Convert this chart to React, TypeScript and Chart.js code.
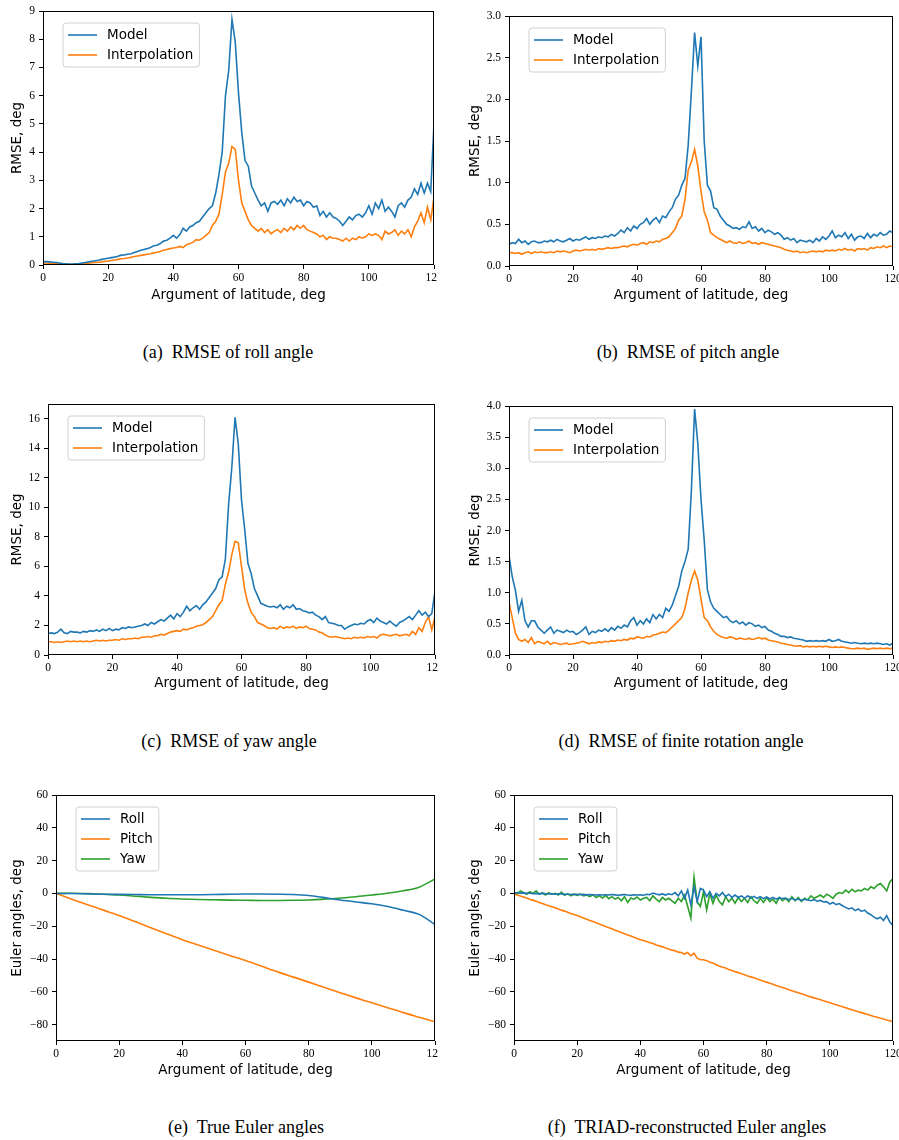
import React, { useEffect, useRef } from "react";
import { Chart, registerables } from "chart.js";
Chart.register(...registerables);

const BLUE = "#1f77b4";
const ORANGE = "#ff7f0e";
const GREEN = "#2ca02c";

// Argument of latitude, deg (shared x grid for the noisy panels)
const X = [
  0, 1, 2, 3, 4, 5, 6, 7, 8, 9, 10, 11, 12, 13, 14, 15, 16, 17, 18, 19,
  20, 21, 22, 23, 24, 25, 26, 27, 28, 29, 30, 31, 32, 33, 34, 35, 36, 37, 38, 39,
  40, 41, 42, 43, 44, 45, 46, 47, 48, 49, 50, 51, 52, 53, 54, 55, 56, 57, 58, 59,
  60, 61, 62, 63, 64, 65, 66, 67, 68, 69, 70, 71, 72, 73, 74, 75, 76, 77, 78, 79,
  80, 81, 82, 83, 84, 85, 86, 87, 88, 89, 90, 91, 92, 93, 94, 95, 96, 97, 98, 99,
  100, 101, 102, 103, 104, 105, 106, 107, 108, 109, 110, 111, 112, 113, 114, 115, 116, 117, 118, 119,
  120,
];
// x grid for the smooth "true Euler angles" panel
const X_E = [0, 5, 10, 15, 20, 25, 30, 35, 40, 45, 50, 55, 60, 65, 70, 75, 80, 85, 90, 95, 100, 105, 110, 115, 120];

// (a) RMSE of roll angle
const A_MODEL = [
  0.12, 0.12, 0.11, 0.10, 0.09, 0.07, 0.05, 0.04, 0.03, 0.03,
  0.04, 0.05, 0.07, 0.09, 0.11, 0.13, 0.15, 0.17, 0.20, 0.22,
  0.24, 0.26, 0.28, 0.31, 0.35, 0.36, 0.38, 0.40, 0.44, 0.48,
  0.52, 0.55, 0.58, 0.62, 0.68, 0.70, 0.76, 0.85, 0.88, 0.95,
  1.05, 0.95, 1.08, 1.30, 1.20, 1.35, 1.40, 1.50, 1.55, 1.70,
  1.85, 2.00, 2.10, 2.55, 3.20, 4.00, 6.00, 6.90, 8.70, 7.90,
  6.10, 4.70, 3.70, 3.50, 2.80, 2.55, 2.30, 2.10, 2.20, 1.90,
  2.20, 2.25, 2.15, 2.30, 2.10, 2.35, 2.20, 2.40, 2.25, 2.30,
  2.10, 2.25, 2.20, 2.05, 2.10, 1.75, 1.90, 1.70, 1.85, 1.70,
  1.65, 1.55, 1.40, 1.55, 1.70, 1.60, 1.75, 1.80, 1.70, 1.85,
  2.10, 1.80, 2.20, 2.00, 2.30, 1.90, 2.05, 1.90, 1.70, 2.10,
  2.20, 2.05, 2.30, 2.40, 2.70, 2.50, 2.90, 2.55, 2.90, 2.60,
  5.00,
];
const A_INTERP = [
  0.07, 0.07, 0.06, 0.05, 0.05, 0.04, 0.03, 0.02, 0.02, 0.02,
  0.03, 0.03, 0.04, 0.05, 0.06, 0.08, 0.09, 0.10, 0.11, 0.13,
  0.14, 0.16, 0.18, 0.20, 0.22, 0.23, 0.25, 0.27, 0.30, 0.32,
  0.34, 0.36, 0.38, 0.40, 0.43, 0.45, 0.48, 0.52, 0.55, 0.58,
  0.60, 0.62, 0.66, 0.62, 0.72, 0.75, 0.80, 0.90, 0.88, 0.95,
  1.05, 1.15, 1.40, 1.55, 1.80, 2.50, 3.30, 3.60, 4.20, 4.10,
  3.00, 2.20, 1.90, 1.60, 1.40, 1.30, 1.20, 1.30, 1.15, 1.25,
  1.10, 1.20, 1.25, 1.15, 1.30, 1.20, 1.35, 1.25, 1.40, 1.30,
  1.40, 1.25, 1.20, 1.15, 1.10, 1.00, 1.05, 0.90, 1.00, 0.95,
  0.95, 0.90, 0.85, 0.95, 0.85, 0.95, 0.90, 1.00, 0.95, 1.00,
  1.10, 1.05, 1.10, 1.05, 0.90, 1.20, 1.10, 1.15, 1.25, 1.05,
  1.20, 1.10, 1.25, 1.00, 1.35, 1.55, 1.85, 1.50, 2.05, 1.60,
  2.40,
];

// (b) RMSE of pitch angle
const B_MODEL = [
  0.26, 0.28, 0.27, 0.32, 0.28, 0.30, 0.26, 0.29, 0.30, 0.28,
  0.28, 0.30, 0.29, 0.31, 0.29, 0.32, 0.30, 0.29, 0.31, 0.33,
  0.30, 0.32, 0.31, 0.33, 0.35, 0.32, 0.34, 0.33, 0.35, 0.34,
  0.36, 0.35, 0.38, 0.36, 0.39, 0.43, 0.40, 0.46, 0.42, 0.48,
  0.45, 0.50, 0.52, 0.57, 0.50, 0.55, 0.58, 0.52, 0.60, 0.58,
  0.65, 0.70, 0.80, 0.85, 0.97, 1.05, 1.45, 2.10, 2.80, 2.40,
  2.75, 1.50, 0.97, 0.90, 0.70, 0.68, 0.60, 0.55, 0.50, 0.48,
  0.45, 0.46, 0.44, 0.47, 0.46, 0.53, 0.45, 0.47, 0.42, 0.45,
  0.40, 0.43, 0.41, 0.38, 0.40, 0.37, 0.32, 0.34, 0.31, 0.33,
  0.28, 0.31, 0.30, 0.29, 0.31, 0.28, 0.33, 0.30, 0.35, 0.32,
  0.36, 0.42, 0.34, 0.37, 0.35, 0.40, 0.33, 0.38, 0.31, 0.35,
  0.36, 0.33, 0.39, 0.34, 0.38, 0.36, 0.40, 0.37, 0.38, 0.42,
  0.40,
];
const B_INTERP = [
  0.16, 0.16, 0.15, 0.16, 0.14, 0.16, 0.17, 0.15, 0.17, 0.16,
  0.17, 0.16, 0.16, 0.17, 0.16, 0.18, 0.17, 0.18, 0.17, 0.16,
  0.18, 0.19, 0.18, 0.19, 0.20, 0.19, 0.20, 0.19, 0.21, 0.20,
  0.21, 0.22, 0.21, 0.22, 0.22, 0.23, 0.24, 0.23, 0.25, 0.26,
  0.25, 0.27, 0.28, 0.26, 0.29, 0.28, 0.30, 0.29, 0.32, 0.33,
  0.35, 0.40, 0.45, 0.55, 0.60, 0.80, 1.15, 1.25, 1.40, 1.20,
  0.90, 0.65, 0.55, 0.40, 0.37, 0.34, 0.32, 0.30, 0.28, 0.30,
  0.28, 0.27, 0.29, 0.27, 0.28, 0.30, 0.27, 0.28, 0.26, 0.28,
  0.27, 0.26, 0.25, 0.24, 0.23, 0.22, 0.20, 0.19, 0.18, 0.17,
  0.18, 0.16, 0.17, 0.16, 0.17, 0.18, 0.17, 0.18, 0.17, 0.19,
  0.18, 0.19, 0.18, 0.20, 0.19, 0.21, 0.19, 0.20, 0.18, 0.21,
  0.20, 0.21, 0.19, 0.22, 0.21, 0.23, 0.22, 0.24, 0.22, 0.24,
  0.23,
];

// (c) RMSE of yaw angle
const C_MODEL = [
  1.45, 1.50, 1.45, 1.55, 1.75, 1.50, 1.45, 1.60, 1.55, 1.55,
  1.50, 1.60, 1.55, 1.65, 1.60, 1.70, 1.60, 1.75, 1.65, 1.80,
  1.65, 1.75, 1.70, 1.85, 1.80, 1.90, 1.85, 1.90, 1.95, 2.00,
  2.10, 2.00, 2.20, 2.10, 2.25, 2.40, 2.30, 2.50, 2.70, 2.45,
  2.80, 2.60, 2.90, 3.30, 3.00, 3.20, 3.35, 3.10, 3.40, 3.60,
  3.90, 4.20, 4.50, 5.10, 5.30, 6.50, 10.20, 12.70, 16.10, 14.30,
  10.50, 8.50, 6.20, 5.50, 4.50, 4.00, 3.50, 3.40, 3.30, 3.25,
  3.30, 3.20, 3.40, 3.10, 3.30, 3.20, 3.40, 3.10, 3.15, 3.00,
  2.95, 2.85, 2.90, 2.70, 2.60, 2.40, 2.60, 2.20, 2.15, 2.10,
  2.00, 2.00, 1.75, 1.90, 2.00, 2.10, 2.05, 2.15, 2.10, 2.30,
  2.40, 2.20, 2.50, 2.30, 2.20, 2.10, 2.30, 2.10, 1.95, 2.20,
  2.30, 2.45, 2.60, 2.40, 2.70, 3.00, 2.70, 2.90, 2.60, 2.80,
  4.30,
];
const C_INTERP = [
  0.90, 0.90, 0.85, 0.90, 0.85, 0.90, 0.95, 0.90, 0.95, 0.90,
  0.95, 0.90, 0.95, 0.90, 0.95, 1.00, 0.95, 1.00, 0.95, 1.00,
  1.00, 1.05, 1.00, 1.10, 1.05, 1.10, 1.10, 1.15, 1.10, 1.20,
  1.20, 1.25, 1.20, 1.30, 1.30, 1.40, 1.35, 1.45, 1.55, 1.60,
  1.65, 1.60, 1.75, 1.70, 1.80, 1.85, 1.95, 2.00, 2.05, 2.20,
  2.40, 2.60, 3.00, 3.40, 3.70, 4.80, 5.60, 6.80, 7.70, 7.60,
  6.00, 4.40, 3.50, 2.90, 2.60, 2.20, 2.10, 2.00, 1.85, 1.80,
  1.85, 1.75, 1.95, 1.80, 1.90, 1.85, 1.95, 1.80, 1.90, 1.85,
  1.95, 1.80, 1.75, 1.70, 1.55, 1.50, 1.35, 1.25, 1.20, 1.25,
  1.20, 1.15, 1.10, 1.15, 1.10, 1.20, 1.15, 1.20, 1.15, 1.25,
  1.20, 1.25, 1.15, 1.35, 1.40, 1.35, 1.30, 1.35, 1.40, 1.30,
  1.35, 1.40, 1.30, 1.60, 1.40, 1.85, 1.60, 2.20, 2.60, 1.70,
  2.60,
];

// (d) RMSE of finite rotation angle
const D_MODEL = [
  1.60, 1.26, 1.04, 0.70, 0.88, 0.55, 0.45, 0.55, 0.55, 0.45,
  0.40, 0.35, 0.40, 0.45, 0.35, 0.40, 0.38, 0.36, 0.40, 0.37,
  0.38, 0.33, 0.36, 0.40, 0.45, 0.33, 0.38, 0.36, 0.40, 0.38,
  0.42, 0.38, 0.44, 0.40, 0.46, 0.43, 0.48, 0.45, 0.55, 0.60,
  0.48, 0.55, 0.50, 0.58, 0.52, 0.65, 0.58, 0.65, 0.60, 0.75,
  0.70, 0.80, 0.95, 1.10, 1.35, 1.50, 1.70, 2.65, 3.95, 3.40,
  2.50, 1.85, 1.05, 0.85, 0.75, 0.70, 0.65, 0.60, 0.62, 0.55,
  0.52, 0.55, 0.50, 0.53, 0.48, 0.52, 0.50, 0.46, 0.48, 0.44,
  0.46, 0.40, 0.38, 0.35, 0.33, 0.30, 0.30, 0.28, 0.29, 0.27,
  0.26, 0.25, 0.24, 0.22, 0.23, 0.22, 0.23, 0.22, 0.23, 0.22,
  0.25, 0.22, 0.23, 0.25, 0.22, 0.21, 0.20, 0.19, 0.20, 0.19,
  0.18, 0.19, 0.18, 0.19, 0.18, 0.19, 0.18, 0.17, 0.18, 0.16,
  0.19,
];
const D_INTERP = [
  0.85, 0.60, 0.35, 0.25, 0.22, 0.25, 0.20, 0.28, 0.18, 0.22,
  0.20, 0.18, 0.22, 0.17, 0.20, 0.19, 0.17, 0.18, 0.19, 0.17,
  0.18, 0.19, 0.20, 0.22, 0.20, 0.18, 0.20, 0.19, 0.21, 0.20,
  0.22, 0.21, 0.23, 0.22, 0.24, 0.23, 0.25, 0.24, 0.27, 0.26,
  0.29, 0.28, 0.27, 0.30, 0.29, 0.32, 0.33, 0.35, 0.37, 0.36,
  0.40, 0.45, 0.50, 0.55, 0.60, 0.75, 1.00, 1.20, 1.35, 1.20,
  0.90, 0.60, 0.55, 0.45, 0.38, 0.33, 0.30, 0.28, 0.27, 0.29,
  0.28, 0.25, 0.27, 0.26, 0.25, 0.27, 0.25, 0.26, 0.28, 0.26,
  0.27, 0.24, 0.23, 0.22, 0.21, 0.19, 0.18, 0.17, 0.16, 0.15,
  0.14, 0.15, 0.13, 0.14, 0.13, 0.14, 0.13, 0.14, 0.13, 0.14,
  0.13, 0.12, 0.13, 0.12, 0.13, 0.12, 0.11, 0.10, 0.10, 0.11,
  0.10, 0.11, 0.09, 0.10, 0.11, 0.10, 0.11, 0.10, 0.11, 0.10,
  0.11,
];

// (e) True Euler angles
const E_ROLL = [0, -0.1, -0.3, -0.5, -0.6, -0.7, -0.8, -0.8, -0.8, -0.8, -0.7, -0.5, -0.4, -0.4, -0.5, -0.7, -1.3, -2.6, -4.0, -5.2, -6.3, -8.0, -10.3, -12.8, -19.0];
const E_PITCH = [0, -3.5, -6.9, -10.2, -13.5, -17.2, -20.9, -24.6, -28.2, -31.4, -34.6, -37.8, -40.9, -44.3, -47.7, -50.9, -54.1, -57.4, -60.6, -63.7, -66.7, -69.7, -72.7, -75.5, -78.3];
const E_YAW = [0, 0.1, -0.1, -0.5, -1.0, -1.7, -2.4, -3.0, -3.4, -3.7, -3.9, -4.1, -4.2, -4.3, -4.3, -4.2, -4.0, -3.5, -2.8, -2.0, -1.0, 0.1, 1.6, 3.8, 8.8];

// (f) TRIAD-reconstructed Euler angles
const F_ROLL = [
  0, 0.5, 0.2, 0.3, 0, 0.2, -0.2, 0, -0.3, 0,
  -0.2, -0.4, -0.2, -0.5, -0.3, -0.4, -0.6, -0.4, -0.7, -0.5,
  -0.6, -0.8, -0.6, -0.9, -0.7, -0.8, -1.0, -0.8, -1.0, -0.8,
  -1.0, -0.7, -0.9, -1.1, -0.9, -0.7, -1.0, -1.2, -0.8, -1.0,
  -0.9, -1.1, -0.5, -0.8, 0.2, -0.4, -0.9, -0.3, -1.0, -0.2,
  -0.8, 0.5, -1.5, 1.5, -3, 2, -7, 4, -5, 3,
  2, -2, 1, -3, 0, -1.5, 0.5, -2, -0.5, -2.5,
  -1, -2.5, -1.5, -3, -1.5, -2.8, -1.8, -3, -2, -3.2,
  -2.2, -3.4, -2.4, -3.5, -2.6, -3.2, -2.8, -3.8, -3.0, -4.0,
  -3.4, -4.2, -3.6, -4.0, -4.5, -3.8, -4.8, -4.3, -5.2, -5.0,
  -6.5, -5.5, -6.8, -6.2, -7.5, -8.5, -9.5, -8.8, -10.5, -9.5,
  -11, -10.2, -12, -13, -14.5, -15.5, -14.5, -16.5, -13.5, -17.5,
  -19.5,
];
const F_PITCH = [
  -0.5, -1.0, -1.6, -2.2, -2.8, -3.5, -4.1, -4.8, -5.5, -6.2,
  -6.9, -7.5, -8.2, -8.8, -9.5, -10.2, -10.8, -11.5, -12.2, -12.8,
  -13.5, -14.2, -15.0, -15.7, -16.5, -17.2, -17.9, -18.7, -19.4, -20.2,
  -20.9, -21.6, -22.4, -23.1, -23.9, -24.6, -25.3, -26.0, -26.8, -27.5,
  -28.2, -28.7, -29.4, -30.1, -30.6, -31.4, -32.0, -32.6, -33.3, -33.9,
  -34.6, -35.0, -35.8, -36.0, -37.0, -36.0, -38.0, -36.5, -39.5, -40.5,
  -40.5, -41.0, -42.0, -42.5, -43.5, -44.3, -45.0, -45.5, -46.4, -47.0,
  -47.7, -48.3, -49.0, -49.6, -50.3, -50.9, -51.5, -52.2, -52.8, -53.5,
  -54.1, -54.8, -55.4, -56.1, -56.8, -57.4, -58.0, -58.7, -59.3, -60.0,
  -60.6, -61.2, -61.8, -62.5, -63.1, -63.7, -64.3, -64.9, -65.5, -66.1,
  -66.7, -67.3, -67.9, -68.5, -69.1, -69.7, -70.3, -70.9, -71.5, -72.1,
  -72.7, -73.3, -73.8, -74.4, -75.0, -75.5, -76.1, -76.6, -77.2, -77.7,
  -78.3,
];
const F_YAW = [
  1, -0.5, 1.5, 0.5, -0.5, 1, 0, 1.5, -0.5, 0.5,
  -1, 0.5, -0.5, 0, -1, 0.8, -1.2, -0.3, -1.5, -0.5,
  -1.2, -0.3, -1.5, -1, -2, -0.8, -2.5, -1.5, -2.8, -1.2,
  -3.2, -2, -3.5, -2.5, -4.5, -2, -5.5, -2.8, -3.5, -2.2,
  -4, -3, -2.5, -4.5, -1.5, -3.5, -5, -2.5, -4, -3,
  -4.5, -6, -3, -5, -1, -8, -15, 10, -5, -8,
  1, -10, 0, -6, -1, -5, -7, -2, -5, -3,
  -6, -2.5, -5, -3, -5.5, -2, -4.5, -6, -3, -5.5,
  -2.5, -5, -3.5, -6, -2.5, -4.5, -3, -5, -2, -4.5,
  -2.5, -5, -3, -4, -1.5, -3, -2, -1, -2.5, -0.5,
  -1.5, -3, -0.5, 0.5, 0, 2, 0.5, 2.5, 1, 2,
  1.5, 3, 2, 4, 3, 5, 6, 4, 1.5, 7,
  9,
];

const X_TICKS = [0, 20, 40, 60, 80, 100, 120];
const A_TICKS = [0, 1, 2, 3, 4, 5, 6, 7, 8, 9];
const B_TICKS = [0, 0.5, 1.0, 1.5, 2.0, 2.5, 3.0];
const C_TICKS = [0, 2, 4, 6, 8, 10, 12, 14, 16];
const D_TICKS = [0, 0.5, 1.0, 1.5, 2.0, 2.5, 3.0, 3.5, 4.0];
const E_TICKS = [-80, -60, -40, -20, 0, 20, 40, 60];

const RMSE_LABELS = ["Model", "Interpolation"];
const EULER_LABELS = ["Roll", "Pitch", "Yaw"];
const CAPTIONS = [
  "(a)  RMSE of roll angle",
  "(b)  RMSE of pitch angle",
  "(c)  RMSE of yaw angle",
  "(d)  RMSE of finite rotation angle",
  "(e)  True Euler angles",
  "(f)  TRIAD-reconstructed Euler angles",
];

type Series = { label: string; xs: number[]; ys: number[]; color: string; smooth?: boolean };
type Spec = {
  box: [number, number, number, number];
  plot: [number, number, number, number];
  yMin: number;
  yMax: number;
  yTicks: number[];
  yDec: number;
  yTitle: string;
  yTitleX: number;
  xTitleY: number;
  series: Series[];
};

const SANS = '"DejaVu Sans", sans-serif';
const SERIF = '"Liberation Serif", serif';

const fmt = (v: number, dec: number) => {
  const s = dec > 0 ? v.toFixed(dec) : String(Math.round(v));
  return s.replace("-", "\u2212");
};

function Panel({ spec }: { spec: Spec }) {
  const ref = useRef<HTMLCanvasElement | null>(null);
  const [cl, ct, cr, cb] = spec.box;
  const [pl, pt, pr, pb] = spec.plot;
  useEffect(() => {
    if (!ref.current) return;
    const half = 13.5 * 1.2 / 2;
    const overlay = {
      id: "frameLegend",
      afterDraw(chart: any) {
        const ctx = chart.ctx as CanvasRenderingContext2D;
        const a = chart.chartArea;
        ctx.save();
        ctx.strokeStyle = "#000";
        ctx.lineWidth = 1;
        ctx.strokeRect(Math.round(a.left) + 0.5, Math.round(a.top) + 0.5, Math.round(a.right - a.left) - 1, Math.round(a.bottom - a.top) - 1);
        ctx.font = "13.5px " + SANS;
        const tw = Math.max(...spec.series.map((s) => ctx.measureText(s.label).width));
        const bx = a.left + 20;
        const by = a.top + 12;
        const bw = 44 + tw + 6;
        const bh = spec.series.length * 20 + 4;
        ctx.beginPath();
        const r = 3;
        ctx.moveTo(bx + r, by);
        ctx.arcTo(bx + bw, by, bx + bw, by + bh, r);
        ctx.arcTo(bx + bw, by + bh, bx, by + bh, r);
        ctx.arcTo(bx, by + bh, bx, by, r);
        ctx.arcTo(bx, by, bx + bw, by, r);
        ctx.closePath();
        ctx.fillStyle = "rgba(255,255,255,0.85)";
        ctx.fill();
        ctx.strokeStyle = "#d0d0d0";
        ctx.stroke();
        ctx.textBaseline = "middle";
        ctx.fillStyle = "#000";
        spec.series.forEach((s, i) => {
          const yy = by + 12 + i * 20;
          ctx.beginPath();
          ctx.strokeStyle = s.color;
          ctx.lineWidth = 1.6;
          ctx.moveTo(bx + 5, yy);
          ctx.lineTo(bx + 34, yy);
          ctx.stroke();
          ctx.fillText(s.label, bx + 44, yy + 0.5);
        });
        ctx.restore();
      },
    };
    const tickFont = { family: SERIF, size: 11.5 };
    const grid = { display: true, drawOnChartArea: false, drawTicks: true, tickLength: 4, tickWidth: 1, tickColor: "#000", color: "#000" };
    const chart = new Chart(ref.current, {
      type: "line",
      data: {
        datasets: spec.series.map((s) => ({
          label: s.label,
          data: s.xs.map((x, i) => ({ x, y: s.ys[i] })),
          borderColor: s.color,
          backgroundColor: s.color,
          borderWidth: 1.6,
          pointRadius: 0,
          fill: false,
          tension: s.smooth ? 0.4 : 0,
          cubicInterpolationMode: s.smooth ? "monotone" : "default",
        })),
      },
      options: {
        animation: false,
        responsive: false,
        maintainAspectRatio: false,
        devicePixelRatio: 1,
        events: [],
        layout: { padding: { left: 0, top: pt - ct, right: cr - pr, bottom: 0 } },
        plugins: { legend: { display: false }, tooltip: { enabled: false } },
        scales: {
          x: {
            type: "linear",
            min: 0,
            max: 120,
            afterBuildTicks: (s: any) => {
              s.ticks = X_TICKS.map((v) => ({ value: v }));
            },
            afterFit: (s: any) => {
              s.height = cb - pb;
              s.paddingLeft = 0;
              s.paddingRight = 0;
            },
            ticks: { font: tickFont, color: "#000", padding: 2, maxRotation: 0, autoSkip: false, callback: (v: any) => fmt(Number(v), 0) },
            grid,
            border: { display: false },
            title: { display: true, text: "Argument of latitude, deg", font: { family: SANS, size: 13.5 }, color: "#000", padding: { top: 0, bottom: cb - spec.xTitleY - half } },
          },
          y: {
            type: "linear",
            min: spec.yMin,
            max: spec.yMax,
            afterBuildTicks: (s: any) => {
              s.ticks = spec.yTicks.map((v) => ({ value: v }));
            },
            afterFit: (s: any) => {
              s.width = pl - cl;
              s.paddingTop = 0;
              s.paddingBottom = 0;
            },
            ticks: { font: tickFont, color: "#000", padding: 4, autoSkip: false, callback: (v: any) => fmt(Number(v), spec.yDec) },
            grid,
            border: { display: false },
            title: { display: true, text: spec.yTitle, font: { family: SANS, size: 13.5 }, color: "#000", padding: { top: spec.yTitleX - cl - half, bottom: 0 } },
          },
        },
      } as any,
      plugins: [overlay],
    });
    return () => chart.destroy();
  }, []);
  return (
    <canvas
      ref={ref}
      width={cr - cl}
      height={cb - ct}
      style={{ position: "absolute", left: cl, top: ct, width: cr - cl, height: cb - ct }}
    />
  );
}

const rmse = (model: number[], interp: number[]): Series[] => [
  { label: RMSE_LABELS[0], xs: X, ys: model, color: BLUE },
  { label: RMSE_LABELS[1], xs: X, ys: interp, color: ORANGE },
];

const SPECS: Spec[] = [
  { box: [0, 0, 437, 305], plot: [43, 11, 434, 265], yMin: 0, yMax: 9, yTicks: A_TICKS, yDec: 0, yTitle: "RMSE, deg", yTitleX: 17.5, xTitleY: 295, series: rmse(A_MODEL, A_INTERP) },
  { box: [460, 0, 899, 305], plot: [509, 16, 893, 266], yMin: 0, yMax: 3, yTicks: B_TICKS, yDec: 1, yTitle: "RMSE, deg", yTitleX: 475, xTitleY: 295, series: rmse(B_MODEL, B_INTERP) },
  { box: [0, 395, 438, 693], plot: [48, 404, 435, 655], yMin: 0, yMax: 17, yTicks: C_TICKS, yDec: 0, yTitle: "RMSE, deg", yTitleX: 17.5, xTitleY: 683, series: rmse(C_MODEL, C_INTERP) },
  { box: [460, 395, 899, 693], plot: [509, 406, 893, 655], yMin: 0, yMax: 4, yTicks: D_TICKS, yDec: 1, yTitle: "RMSE, deg", yTitleX: 475, xTitleY: 683, series: rmse(D_MODEL, D_INTERP) },
  {
    box: [0, 785, 438, 1080], plot: [56, 795, 435, 1041], yMin: -90, yMax: 60, yTicks: E_TICKS, yDec: 0, yTitle: "Euler angles, deg", yTitleX: 17.5, xTitleY: 1070,
    series: [
      { label: EULER_LABELS[0], xs: X_E, ys: E_ROLL, color: BLUE, smooth: true },
      { label: EULER_LABELS[1], xs: X_E, ys: E_PITCH, color: ORANGE, smooth: true },
      { label: EULER_LABELS[2], xs: X_E, ys: E_YAW, color: GREEN, smooth: true },
    ],
  },
  {
    box: [460, 785, 899, 1080], plot: [514, 795, 893, 1041], yMin: -90, yMax: 60, yTicks: E_TICKS, yDec: 0, yTitle: "Euler angles, deg", yTitleX: 475, xTitleY: 1070,
    series: [
      { label: EULER_LABELS[0], xs: X, ys: F_ROLL, color: BLUE },
      { label: EULER_LABELS[1], xs: X, ys: F_PITCH, color: ORANGE },
      { label: EULER_LABELS[2], xs: X, ys: F_YAW, color: GREEN },
    ],
  },
];

const CAPTION_POS: [number, number][] = [
  [228, 352], [688, 352], [229, 741], [681, 741], [246, 1127], [687, 1127],
];

export default function App() {
  return (
    <div style={{ position: "absolute", left: 0, top: 0, width: 899, height: 1140, background: "#fff", overflow: "hidden" }}>
      {SPECS.map((s, i) => (
        <Panel key={i} spec={s} />
      ))}
      {CAPTIONS.map((c, i) => (
        <div
          key={"c" + i}
          style={{
            position: "absolute",
            left: CAPTION_POS[i][0] - 220,
            width: 440,
            top: CAPTION_POS[i][1] - 11,
            height: 22,
            lineHeight: "22px",
            textAlign: "center",
            fontFamily: SERIF,
            fontSize: 18,
            color: "#000",
            whiteSpace: "pre",
          }}
        >
          {c}
        </div>
      ))}
    </div>
  );
}
